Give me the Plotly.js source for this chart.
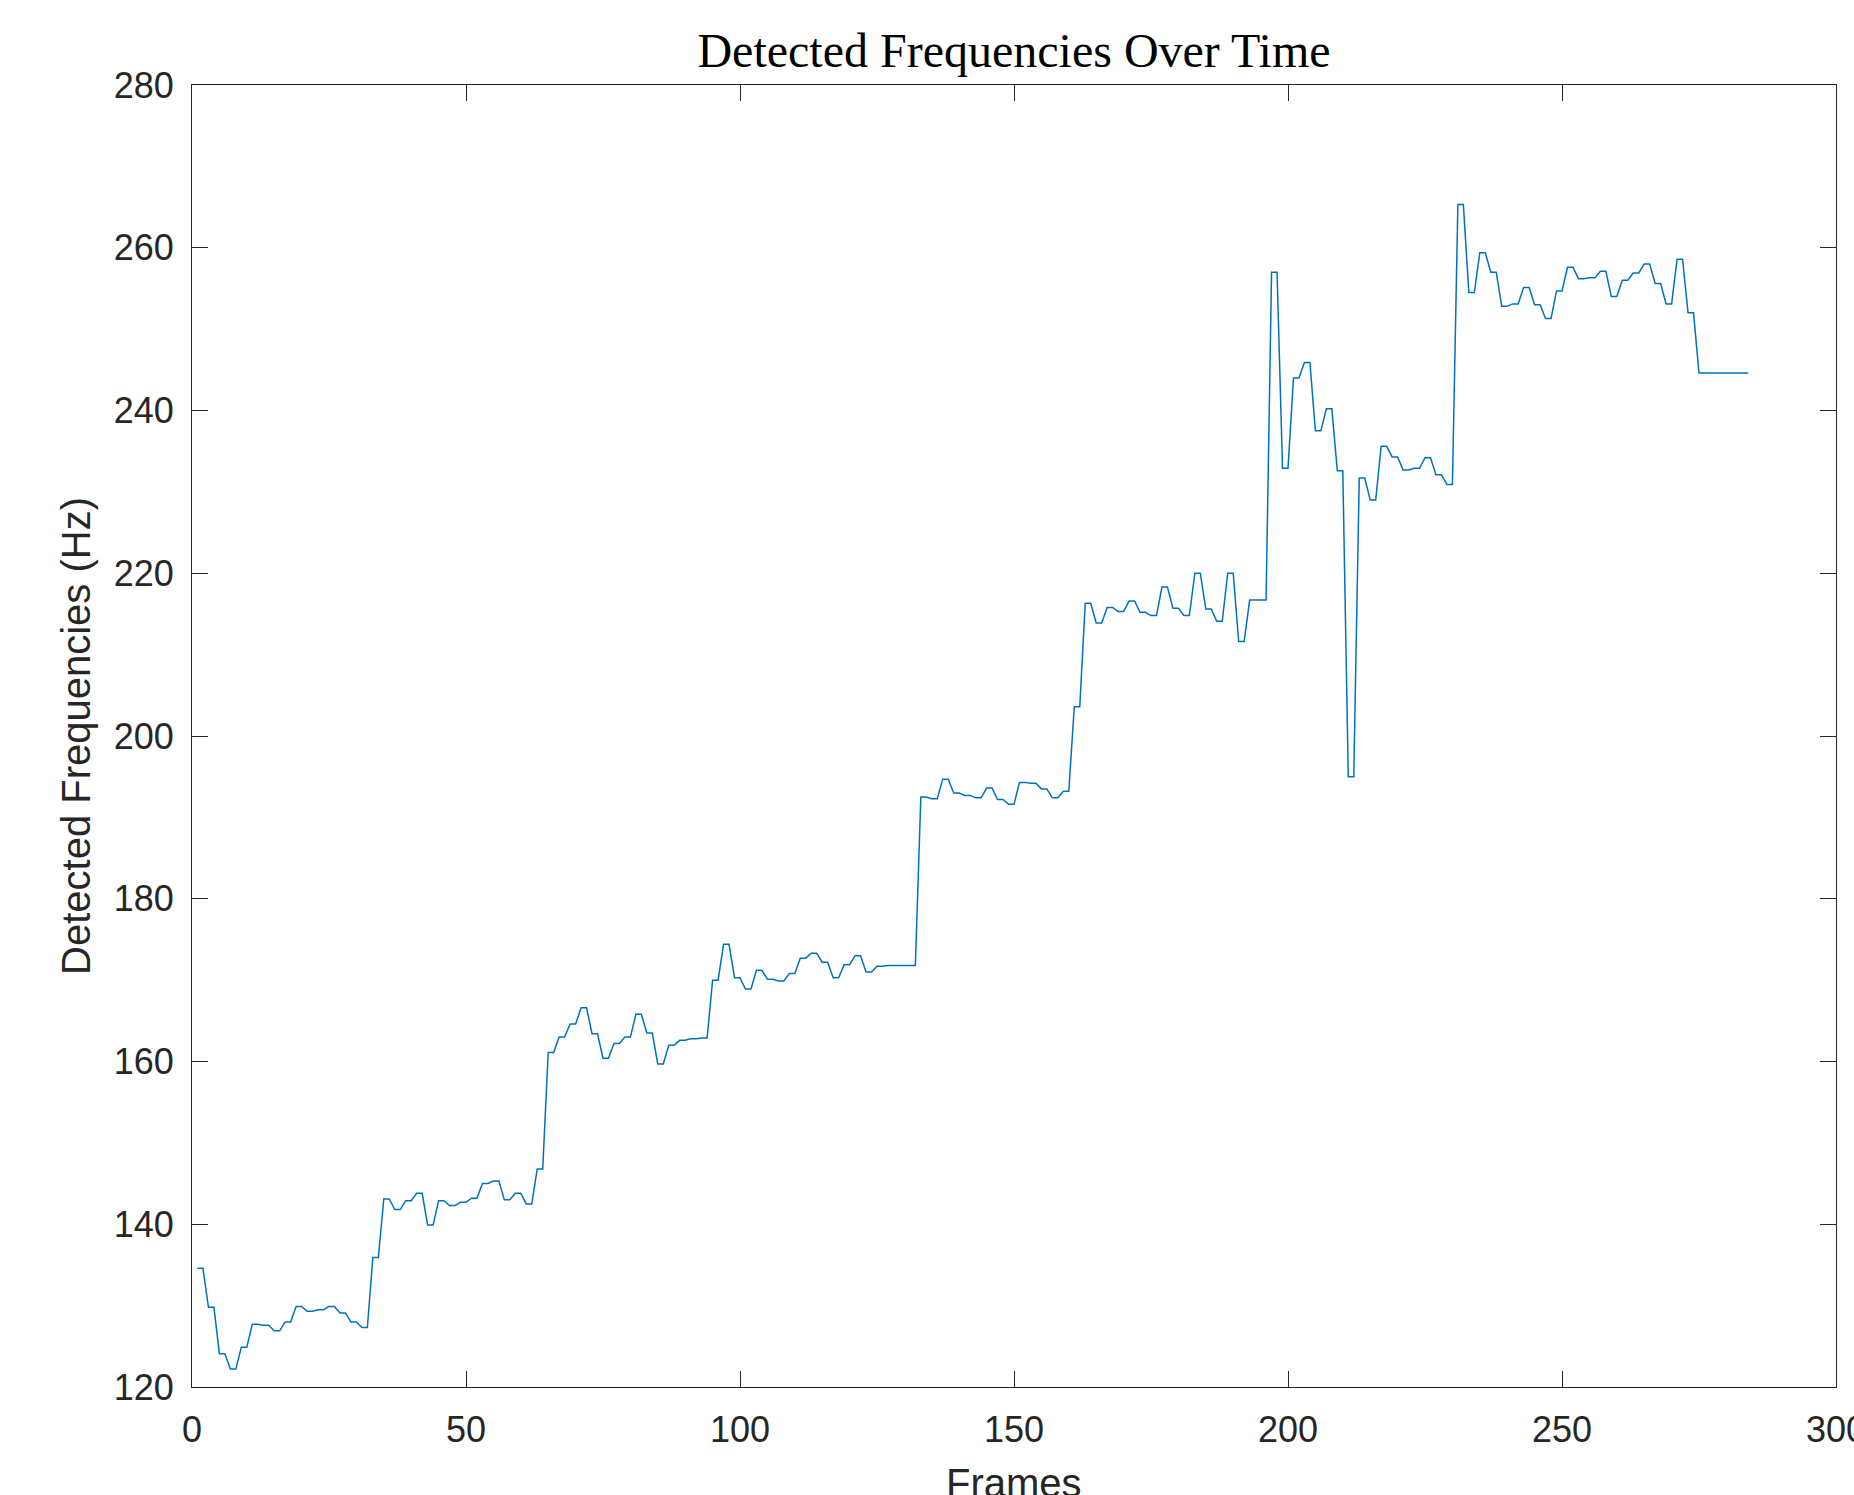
<!DOCTYPE html>
<html>
<head>
<meta charset="utf-8">
<script src="https://cdn.plot.ly/plotly-3.0.1.min.js"></script>
<style>
  html, body { margin: 0; padding: 0; overflow: hidden; background: #ffffff; }
  #chart { width: 1854px; height: 1495px; }
</style>
</head>
<body>
<div id="chart"></div>
<script>
// Detected frequency per frame (Hz), frames start at 1
var detectedFrequencies = [
  134.6,134.6, 129.8,129.8, 124.1,124.1, 122.2,122.2, 124.9,124.9, 127.7,127.7, 127.6,127.6, 126.9,126.9,
  128.0,128.0, 129.9,129.9, 129.3,129.3, 129.5,129.5, 129.9,129.9, 129.1,129.1, 128.0,128.0, 127.3,127.3,
  135.9,135.9, 143.1,143.1, 141.8,141.8, 142.9,142.9, 143.8,143.8, 139.9,139.9, 142.9,142.9, 142.3,142.3,
  142.7,142.7, 143.2,143.2, 145.0,145.0, 145.3,145.3, 143.0,143.0, 143.8,143.8, 142.5,142.5, 146.8,146.8,
  161.1,161.1, 163.0,163.0, 164.6,164.6, 166.6,166.6, 163.4,163.4, 160.4,160.4, 162.2,162.2, 163.0,163.0,
  165.8,165.8, 163.5,163.5, 159.7,159.7, 162.0,162.0, 162.6,162.6, 162.8,162.8, 162.9,162.9, 170.0,170.0,
  174.4,174.4, 170.3,170.3, 168.9,168.9, 171.2,171.2, 170.1,170.1, 169.9,169.9, 170.8,170.8, 172.7,172.7,
  173.3,173.3, 172.2,172.2, 170.3,170.3, 171.9,171.9, 173.0,173.0, 171.0,171.0, 171.7,171.7, 171.8,171.8,
  171.8,171.8, 171.8,171.8, 192.5,192.5, 192.3,192.3, 194.7,194.7, 193.0,193.0, 192.7,192.7, 192.4,192.4,
  193.6,193.6, 192.2,192.2, 191.6,191.6, 194.3,194.3, 194.2,194.2, 193.5,193.5, 192.4,192.4, 193.2,193.2,
  203.6,203.6, 216.3,216.3, 213.9,213.9, 215.8,215.8, 215.3,215.3, 216.6,216.6, 215.2,215.2, 214.8,214.8,
  218.3,218.3, 215.7,215.7, 214.8,214.8, 220.0,220.0, 215.6,215.6, 214.1,214.1, 220.0,220.0, 211.6,211.6,
  216.7,216.7, 216.7,216.7, 257.0,257.0, 232.9,232.9, 244.0,244.0, 245.9,245.9, 237.5,237.5, 240.2,240.2,
  232.6,232.6, 195.0,195.0, 231.7,231.7, 229.0,229.0, 235.6,235.6, 234.3,234.3, 232.7,232.7, 232.9,232.9,
  234.2,234.2, 232.1,232.1, 230.9,230.9, 265.3,265.3, 254.5,254.5, 259.4,259.4, 257.0,257.0, 252.8,252.8,
  253.1,253.1, 255.1,255.1, 253.0,253.0, 251.3,251.3, 254.7,254.7, 257.6,257.6, 256.2,256.2, 256.3,256.3,
  257.1,257.1, 254.0,254.0, 256.0,256.0, 256.9,256.9, 258.0,258.0, 255.6,255.6, 253.1,253.1, 258.6,258.6,
  252.0,252.0,
  244.6,244.6,244.6,244.6,244.6,244.6,244.6,244.6,244.6,244.6
];
var firstFrame = 1;
var xTickValues = [0, 50, 100, 150, 200, 250, 300];
var yTickValues = [120, 140, 160, 180, 200, 220, 240, 260, 280];
var xAxisTitle = 'Frames';
var yAxisTitle = 'Detected Frequencies (Hz)';
var chartTitle = 'Detected Frequencies Over Time';

var axisColor = '#262626';
var tickFont = { family: 'Liberation Sans, Arial, sans-serif', size: 36, color: axisColor };
var titleFont = { family: 'Liberation Sans, Arial, sans-serif', size: 40, color: axisColor };

var trace = {
  type: 'scatter',
  mode: 'lines',
  y: detectedFrequencies,
  x0: firstFrame,
  dx: 1,
  line: { color: '#0072BD', width: 1.5 },
  hoverinfo: 'x+y'
};

var layout = {
  width: 1854,
  height: 1495,
  paper_bgcolor: '#ffffff',
  plot_bgcolor: '#ffffff',
  showlegend: false,
  margin: { l: 192, r: 18, t: 85, b: 108, pad: 0 },
  title: {
    text: chartTitle,
    font: { family: 'Liberation Serif, Times New Roman, serif', size: 48, color: '#000000' },
    x: 0.5, xref: 'paper', xanchor: 'center',
    y: 1 - 50 / 1495, yref: 'container', yanchor: 'middle'
  },
  xaxis: {
    range: [0, 300],
    tickmode: 'array',
    tickvals: xTickValues,
    ticktext: xTickValues.map(String),
    ticks: 'inside',
    ticklen: 16,
    tickwidth: 1,
    tickcolor: axisColor,
    showline: true,
    linecolor: axisColor,
    linewidth: 1,
    mirror: 'ticks',
    showgrid: false,
    zeroline: false,
    tickfont: tickFont,
    ticklabelstandoff: 11,
    ticklabeloverflow: 'allow'
  },
  yaxis: {
    range: [120, 280],
    tickmode: 'array',
    tickvals: yTickValues,
    ticktext: yTickValues.map(String),
    ticks: 'inside',
    ticklen: 16,
    tickwidth: 1,
    tickcolor: axisColor,
    showline: true,
    linecolor: axisColor,
    linewidth: 1,
    mirror: 'ticks',
    showgrid: false,
    zeroline: false,
    tickfont: tickFont,
    ticklabelstandoff: 10,
    ticklabeloverflow: 'allow',
    title: { text: yAxisTitle, font: titleFont, standoff: 10 }
  },
  annotations: [{
    text: xAxisTitle,
    font: titleFont,
    xref: 'paper', yref: 'paper',
    x: 0.5, y: 0,
    xanchor: 'center', yanchor: 'top',
    yshift: -72,
    showarrow: false
  }]
};

Plotly.newPlot('chart', [trace], layout, { displayModeBar: false, staticPlot: true });
</script>
</body>
</html>
